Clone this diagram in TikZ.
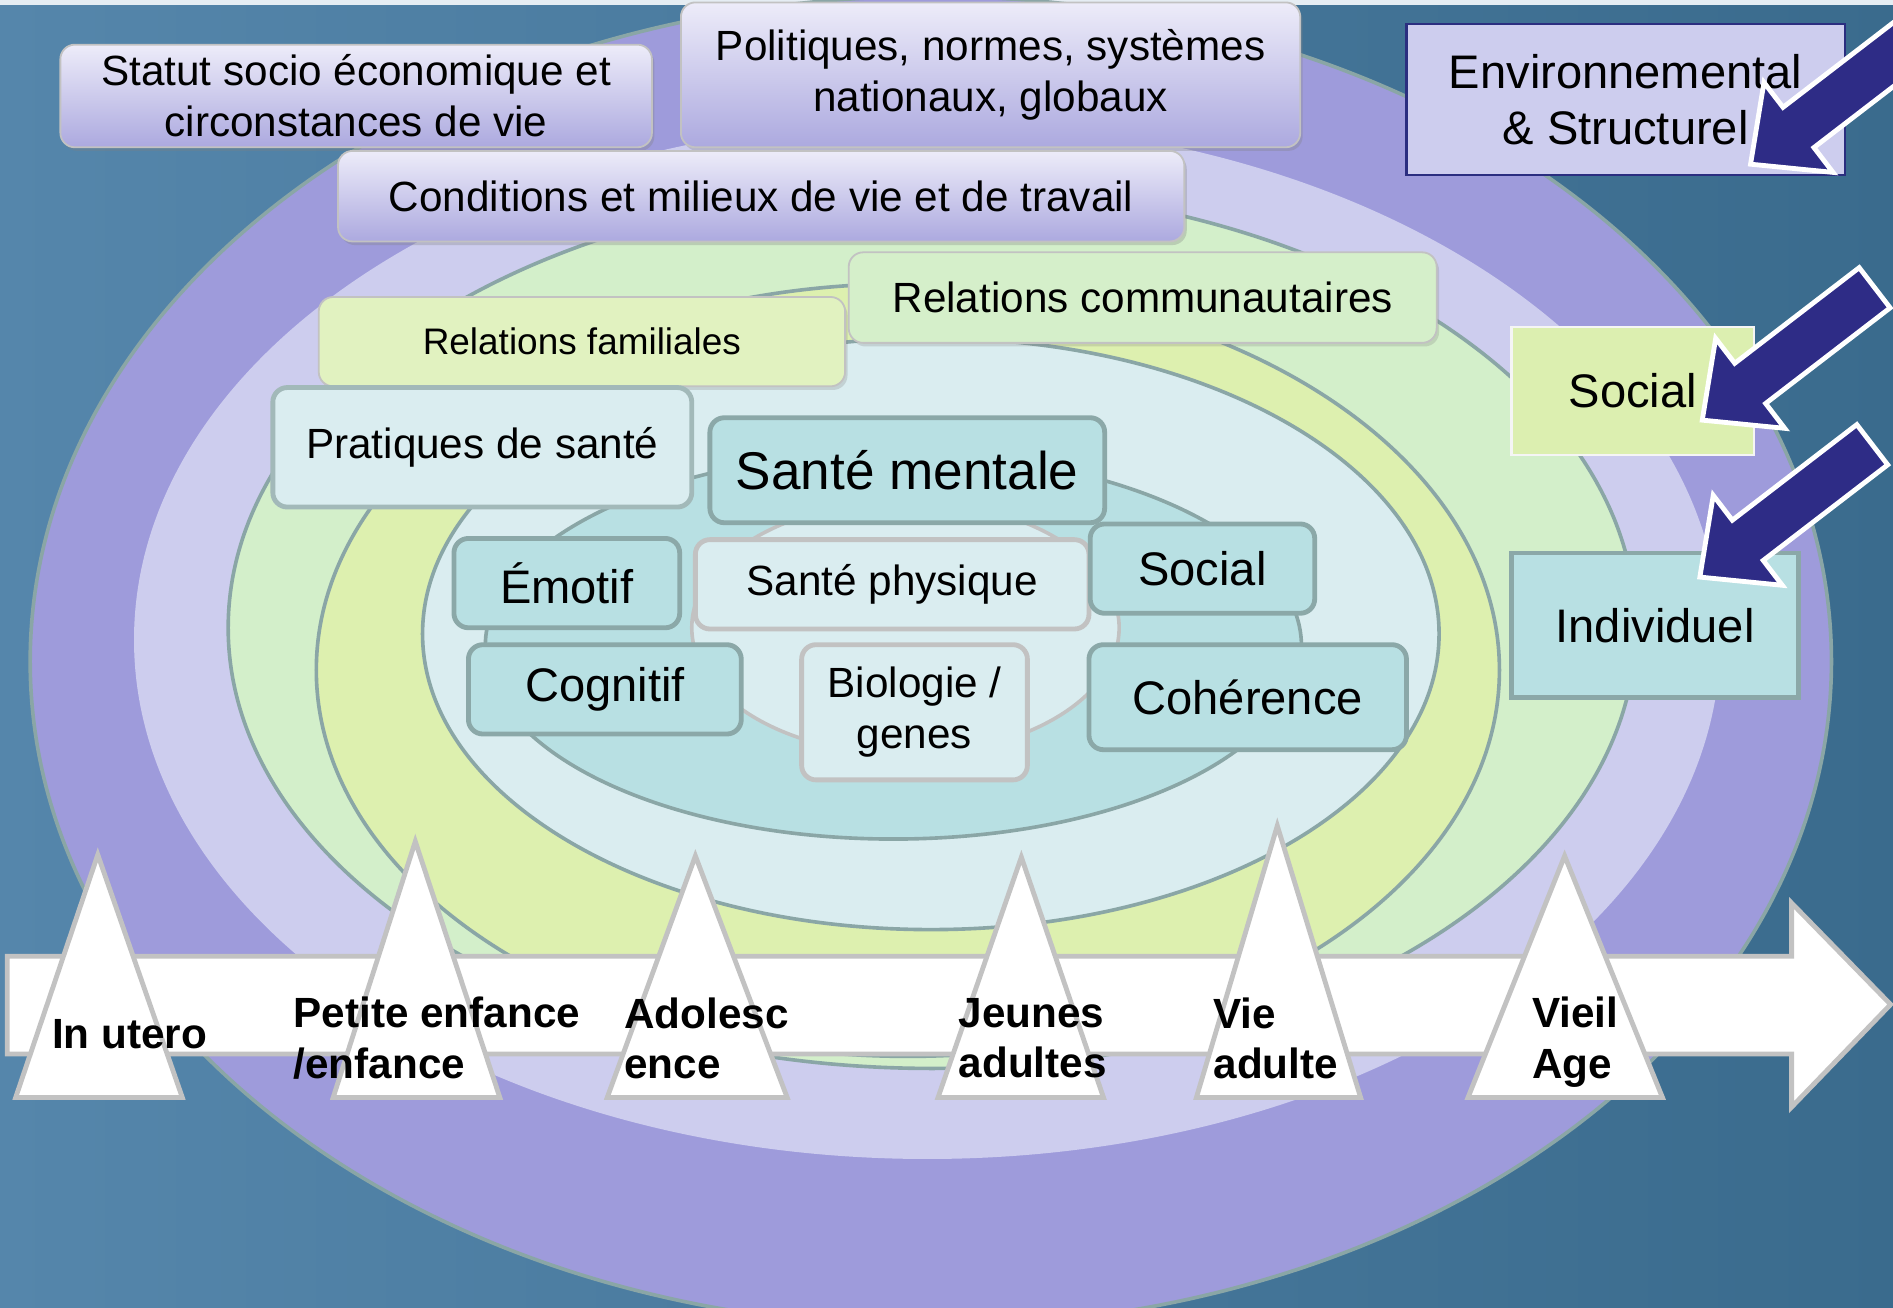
\documentclass[tikz,border=0pt]{standalone}
\usepackage{fontspec}
\setmainfont{Liberation Sans}
\usetikzlibrary{shadows}

\definecolor{bgleft}{HTML}{5586AB}
\definecolor{bgright}{HTML}{3A6B8D}
\definecolor{ringline}{HTML}{8AA6A6}
\definecolor{purpring}{HTML}{9E9BDB}
\definecolor{lavring}{HTML}{CDCDEE}
\definecolor{greenring}{HTML}{D3EFCA}
\definecolor{yellowring}{HTML}{DDF0AF}
\definecolor{paleblue}{HTML}{DAEDF0}
\definecolor{tealfill}{HTML}{B8E0E3}
\definecolor{tealline}{HTML}{8BA8A8}
\definecolor{greyline}{HTML}{C2C2C2}
\definecolor{boxtop}{HTML}{EDECF9}
\definecolor{boxbottom}{HTML}{ACA9DF}
\definecolor{navyfill}{HTML}{2E2C86}
\definecolor{navyline}{HTML}{2B2E80}
\definecolor{socialgreen}{HTML}{DCEFB0}
\definecolor{famgreen}{HTML}{E1F2C0}
\definecolor{commgreen}{HTML}{D5EFCA}

\begin{document}
\begin{tikzpicture}[x=1pt, y=-1pt,
  ring/.style={draw=ringline, line width=3pt},
  topbox/.style={rounded corners=12pt, draw=greyline, line width=1.5pt, top color=boxtop, bottom color=boxbottom,
    drop shadow={opacity=0.3, shadow xshift=2pt, shadow yshift=-3pt}, align=center, inner sep=0pt,
    font=\fontsize{35}{42}\selectfont},
  greenbox/.style={rounded corners=12pt, draw=greyline, line width=1.5pt,
    drop shadow={opacity=0.25, shadow xshift=2pt, shadow yshift=-3pt}, inner sep=0pt,
    font=\fontsize{35}{42}\selectfont},
  tealnode/.style={rounded corners=12pt, draw=tealline, line width=4pt, fill=tealfill, inner sep=0pt, align=center,
    font=\fontsize{39}{47}\selectfont},
  greynode/.style={rounded corners=12pt, draw=greyline, line width=4pt, fill=paleblue, inner sep=0pt, align=center,
    font=\fontsize{35}{42}\selectfont},
  legendbox/.style={inner sep=0pt, align=center, font=\fontsize{39}{47}\selectfont},
  timeline/.style={fill=white, draw=greyline, line width=4pt, line join=miter},
  stage/.style={fill=white, draw=greyline, line width=4pt},
  phase/.style={anchor=west, align=left, inner sep=0pt, font=\bfseries\fontsize{35}{42}\selectfont},
  bigarrow/.pic={\draw[fill=navyfill, draw=white, line width=4pt, line join=miter]
    (0,0) -- ++(68.3,6.8) -- ++(-15.8,-20.6) -- ++(103.1,-79.2) -- ++(-25.6,-33.3)
    -- ++(-103.1,79.2) -- ++(-15.8,-20.6) -- cycle;}]
  \useasboundingbox (0,0) rectangle (1568,1083);
  \clip (0,0) rectangle (1568,1083);

  % background
  \shade[left color=bgleft, right color=bgright] (0,0) rectangle (1568,1083);
  \fill[white!85!bgleft] (0,0) rectangle (1568,4);

  % rings
  \draw[ring, fill=purpring] (771,548) ellipse [x radius=746pt, y radius=551pt];
  \fill[lavring] (768,530) ellipse [x radius=657pt, y radius=430pt];
  \draw[ring, fill=greenring] (772,520) ellipse [x radius=583pt, y radius=365pt];
  \draw[ring, fill=yellowring] (752,555) ellipse [x radius=490pt, y radius=320pt];
  \draw[ring, fill=paleblue] (771,525) ellipse [x radius=421pt, y radius=245pt];
  \draw[ring, fill=tealfill] (740,535) ellipse [x radius=338pt, y radius=160pt];
  \draw[draw=greyline, line width=3pt, fill=paleblue] (750,520) ellipse [x radius=177pt, y radius=105pt];

  % outer levels
  \node[topbox, minimum width=490pt, minimum height=85pt] (statut) at (295,79.5) {Statut socio économique et\\circonstances de vie};
  \node[topbox, minimum width=513pt, minimum height=120pt] (politiques) at (820.5,62) {Politiques, normes, systèmes\\nationaux, globaux};
  \node[topbox, minimum width=701pt, minimum height=75pt] (conditions) at (630.5,162.5) {Conditions et milieux de vie et de travail};
  \node[greenbox, fill=commgreen, minimum width=487pt, minimum height=75pt] (communautaires) at (946.5,246.5) {Relations communautaires};
  \node[greenbox, fill=famgreen, minimum width=436pt, minimum height=74pt, font=\fontsize{30.6}{37}\selectfont] (familiales) at (482,283) {Relations familiales};

  % individual level
  \node[greynode, draw=tealline!80, minimum width=347pt, minimum height=99pt] (pratiques) at (399.5,370.5) {Pratiques de santé};
  \node[tealnode, minimum width=327pt, minimum height=87pt, font=\fontsize{44}{53}\selectfont] (mentale) at (751.5,389.5) {Santé mentale};
  \node[tealnode, minimum width=187pt, minimum height=74pt] (emotif) at (469.5,483) {Émotif};
  \node[greynode, minimum width=326pt, minimum height=74pt] (physique) at (739,484) {Santé physique};
  \node[tealnode, minimum width=186pt, minimum height=74pt] (socialin) at (996,471) {Social};
  \node[tealnode, minimum width=226pt, minimum height=74pt] (cognitif) at (501,571) {Cognitif};
  \node[greynode, minimum width=187pt, minimum height=112pt] (biologie) at (757.5,590) {Biologie /\\genes};
  \node[tealnode, minimum width=263pt, minimum height=87pt] (coherence) at (1033.5,577.5) {Cohérence};

  % legend
  \node[legendbox, fill=lavring, draw=navyline, line width=2pt, minimum width=363pt, minimum height=125pt] (env) at (1346.5,82.5) {Environnemental\\\& Structurel};
  \node[legendbox, fill=socialgreen, draw=white!92!gray, line width=2pt, minimum width=201pt, minimum height=106pt] (socialout) at (1352.5,324) {Social};
  \node[legendbox, fill=tealfill, draw=tealline, line width=4pt, minimum width=238pt, minimum height=120pt] (individuel) at (1371,518) {Individuel};
  \pic (envarrow) at (1450,136) {bigarrow};
  \pic (socarrow) at (1410,348) {bigarrow};
  \pic (indarrow) at (1408,478) {bigarrow};

  % life course
  \draw[timeline] (6,792) -- (1484,792) -- (1484,748) -- (1566,832) -- (1484,917) -- (1484,873) -- (6,873) -- cycle;
  \draw[stage] (81,708) -- (151,909) -- (13,909) -- cycle;
  \draw[stage] (344,697) -- (414,909) -- (276,909) -- cycle;
  \draw[stage] (576,709) -- (652,909) -- (503,909) -- cycle;
  \draw[stage] (846,710) -- (914,909) -- (777,909) -- cycle;
  \draw[stage] (1058,684) -- (1127,909) -- (991,909) -- cycle;
  \draw[stage] (1296,709) -- (1377,909) -- (1216,909) -- cycle;
  \node[phase] (utero) at (43,857) {In utero};
  \node[phase] (petite) at (243,860) {Petite enfance\\/enfance};
  \node[phase] (adol) at (517,860) {Adolesc\\ence};
  \node[phase] (jeunes) at (794,860) {Jeunes\\adultes};
  \node[phase] (vie) at (1005,860) {Vie\\adulte};
  \node[phase] (vieil) at (1269,863) {Vieil\\Age};
\end{tikzpicture}
\end{document}
